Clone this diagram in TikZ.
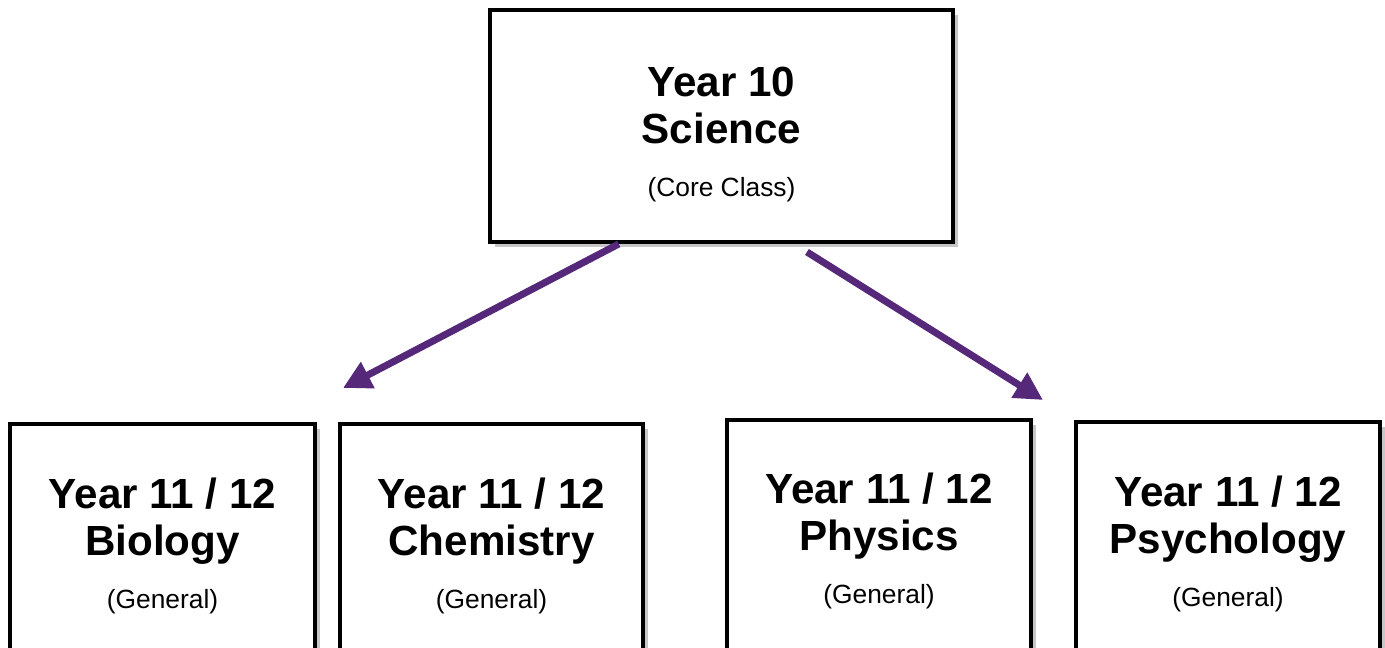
\documentclass[tikz,border=0pt]{standalone}
\usepackage{fontspec}
\setmainfont{Liberation Sans}
\usetikzlibrary{arrows.meta,shadows,calc}

\begin{document}
\begin{tikzpicture}[
        x=0.02cm, y=-0.02cm,
    ]

    \tikzstyle{course} = [rectangle, draw=black, line width=0.08cm, fill=white,
                          align=center, inner sep=0pt,
                          font=\fontsize{24}{27}\selectfont\bfseries,
                          drop shadow={opacity=0.45, shadow xshift=0.1cm, shadow yshift=-0.1cm}];
    \tikzstyle{path} = [line width=0.14cm, draw=pathpurple,
                        -{Triangle[length=0.56cm, width=0.56cm]}];

    \definecolor{pathpurple}{RGB}{85,40,122}
    \newcommand{\sub}[1]{\fontsize{15}{18}\selectfont\mdseries #1}

    \useasboundingbox (0,0) rectangle (1385,648);
    \clip (0,0) rectangle (1385,648);

    % Nodes
    \node[course, minimum width=9.26cm, minimum height=4.64cm] (science) at (721.5,126)
        {\rule{0pt}{26.5pt}Year 10\\ Science\\[3pt] \sub{(Core Class)}};
    \node[course, anchor=north, minimum width=6.1cm, minimum height=4.88cm] (biology) at (162.5,422)
        {Year 11 / 12\\ Biology\\[3pt] \sub{(General)}};
    \node[course, anchor=north, minimum width=6.06cm, minimum height=4.88cm] (chemistry) at (491.5,422)
        {Year 11 / 12\\ Chemistry\\[3pt] \sub{(General)}};
    \node[course, anchor=north, minimum width=6.08cm, minimum height=4.84cm] (physics) at (879,418)
        {Year 11 / 12\\ Physics\\[3pt] \sub{(General)}};
    \node[course, anchor=north, minimum width=6.08cm, minimum height=4.88cm] (psychology) at (1228,420)
        {Year 11 / 12\\ Psychology\\[3pt] \sub{(General)}};

    % Arrow ends
    \coordinate (leftend) at (343,388);
    \coordinate (rightend) at (1043,400);

    % Arrows
    \draw[path] ($(science.south west)!0.28!(science.south east)$) -- (leftend);
    \draw[path] ($(science.south west)!0.683!(science.south east) + (0,8)$) -- (rightend);

\end{tikzpicture}
\end{document}
